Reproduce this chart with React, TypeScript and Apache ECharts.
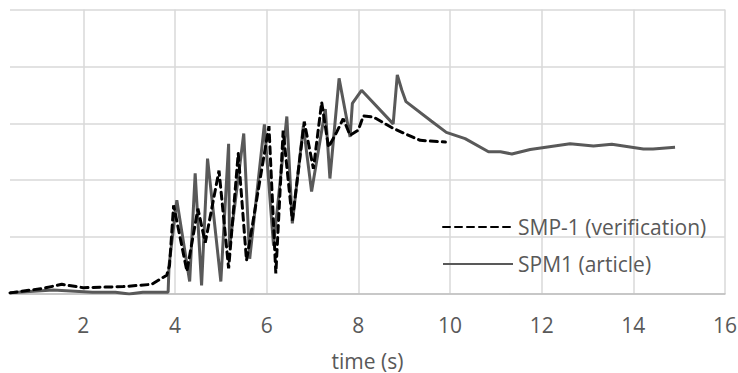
import React, { useEffect, useRef } from "react";
import * as echarts from "echarts";

const xTicks = [2, 4, 6, 8, 10, 12, 14, 16];

const smpVerification: [number, number][] = [
  [0.4, 0.02], [1.13, 0.1], [1.53, 0.17], [2.0, 0.11], [2.87, 0.13], [3.49, 0.17],
  [3.82, 0.33], [3.88, 0.5], [3.97, 1.56], [4.26, 0.4], [4.5, 1.5], [4.66, 0.9],
  [4.96, 2.17], [5.17, 0.45], [5.38, 2.47], [5.56, 0.59], [6.05, 2.95], [6.2, 0.36],
  [6.36, 2.87], [6.56, 1.29], [6.82, 3.03], [7.02, 2.2], [7.2, 3.37], [7.35, 2.58],
  [7.53, 2.85], [7.67, 3.08], [7.82, 2.79], [8.0, 2.88], [8.11, 3.13], [8.33, 3.11],
  [8.76, 2.91], [9.35, 2.7], [9.9, 2.67],
];

const spmArticle: [number, number][] = [
  [0.4, 0.02], [1.34, 0.07], [2.2, 0.03], [2.7, 0.03], [3.0, 0.0], [3.3, 0.03],
  [3.85, 0.03], [3.87, 0.5], [4.04, 1.65], [4.32, 0.22], [4.44, 2.12], [4.58, 0.15],
  [4.71, 2.38], [5.0, 0.22], [5.17, 2.64], [5.19, 0.82], [5.5, 2.82], [5.63, 0.62],
  [5.95, 2.98], [6.15, 0.85], [6.44, 3.12], [6.56, 1.24], [6.8, 2.95], [6.98, 1.8],
  [7.28, 3.25], [7.38, 2.03], [7.58, 3.79], [7.82, 2.76], [7.87, 3.35], [8.07, 3.58],
  [8.76, 2.99], [8.85, 3.85], [8.95, 3.58], [9.04, 3.38], [9.59, 3.04], [9.92, 2.84],
  [10.33, 2.73], [10.84, 2.5], [11.1, 2.5], [11.35, 2.46], [11.75, 2.54], [12.62, 2.64],
  [13.13, 2.6], [13.53, 2.63], [14.22, 2.55], [14.43, 2.55], [14.91, 2.58],
];

const FONT = "Open Sans";
const TEXT = "#595959";

export default function App() {
  const ref = useRef<HTMLDivElement>(null);
  useEffect(() => {
    if (!ref.current) return;
    const chart = echarts.init(ref.current, undefined, { renderer: "svg" });
    chart.setOption({
      animation: false,
      backgroundColor: "#ffffff",
      grid: {
        left: 10,
        right: 13,
        top: 9.5,
        bottom: 79,
        containLabel: false,
        outerBoundsMode: "none",
      },
      legend: {
        orient: "vertical",
        left: 437,
        top: 211,
        itemWidth: 70,
        itemHeight: 14,
        itemGap: 15,
        itemStyle: { opacity: 0 },
        textStyle: { fontFamily: FONT, fontSize: 21, color: TEXT, lineHeight: 22 },
        data: ["SMP-1 (verification)", "SPM1 (article)"],
      },
      xAxis: {
        type: "value",
        min: 0.4,
        max: 16,
        name: "time (s)",
        nameLocation: "middle",
        nameGap: 57,
        nameTextStyle: { fontFamily: FONT, fontSize: 21, color: TEXT, lineHeight: 20 },
        axisLine: { show: true, lineStyle: { color: "#bfbfbf", width: 1.5 } },
        axisTick: { show: false, customValues: xTicks },
        axisLabel: {
          customValues: xTicks,
          fontFamily: FONT,
          fontSize: 21,
          color: TEXT,
          margin: 20,
        },
        splitLine: { show: true, lineStyle: { color: "#d9d9d9", width: 1.5 } },
      },
      yAxis: {
        type: "value",
        min: 0,
        max: 5,
        interval: 1,
        axisLine: { show: false },
        axisTick: { show: false },
        axisLabel: { show: false },
        splitLine: { show: true, lineStyle: { color: "#d9d9d9", width: 1.5 } },
      },
      series: [
        {
          name: "SMP-1 (verification)",
          type: "line",
          data: smpVerification,
          symbol: "none",
          z: 3,
          lineStyle: { color: "#000000", width: 3, type: [7, 5], cap: "round" },
          itemStyle: { color: "#000000" },
        },
        {
          name: "SPM1 (article)",
          type: "line",
          data: spmArticle,
          symbol: "none",
          z: 2,
          lineStyle: { color: "#595959", width: 3 },
          itemStyle: { color: "#595959" },
        },
      ],
    });
    return () => chart.dispose();
  }, []);
  return (
    <div
      ref={ref}
      style={{ position: "fixed", left: 0, top: 0, width: 738, height: 373 }}
    />
  );
}
